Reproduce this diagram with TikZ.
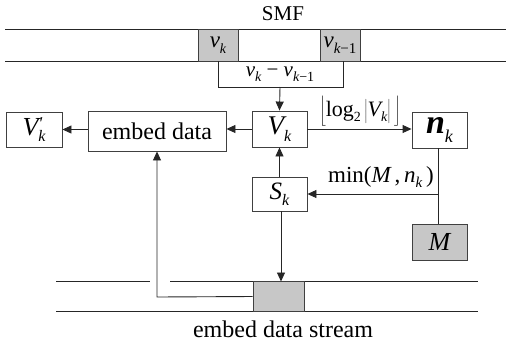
\documentclass[tikz,border=0pt]{standalone}
\usepackage{fontspec}
\setmainfont{Liberation Serif}
\usetikzlibrary{arrows.meta}
\newcommand\fsz[1]{\fontsize{#1}{#1}\selectfont}
\newcommand\lowsub[2]{\raisebox{-0.55ex}{\fsz{#1}\itshape #2}}
\begin{document}
\begin{tikzpicture}[x=1pt,y=-1pt,
  box/.style={draw=black!75,line width=0.9pt,rectangle,inner sep=0pt,fill=white},
  gbox/.style={box,fill=black!22},
  ln/.style={draw=black!85,line width=0.9pt},
  arr/.style={ln,-{Triangle[length=9pt,width=8pt]}},
  txt/.style={inner sep=0pt}
]
\useasboundingbox (0,0) rectangle (506,341);
% SMF band
\node[txt] (smf) at (283,14) {\fsz{21}SMF};
\draw[ln] (5,29) -- (506,29);
\draw[ln] (5,61) -- (506,61);
\node[gbox,minimum width=40pt,minimum height=32pt] (vk) at (218,45)
  {\fsz{23}\itshape v\lowsub{14}{k}};
\node[gbox,minimum width=40pt,minimum height=32pt] (vk1) at (340,45)
  {\fsz{23}\itshape v\raisebox{-0.55ex}{\fsz{15}\itshape k\upshape −1}};
% difference bracket
\coordinate (bl) at (218,87);
\coordinate (br) at (343,87);
\coordinate (bm) at (280,87);
\draw[ln] (vk.south) -- (bl) -- (br) -- (br |- vk1.south);
\node[txt] (diff) at (280,74)
  {\fsz{21}\itshape v\lowsub{14}{k}\upshape\ −\ \itshape v\raisebox{-0.55ex}{\fsz{14}\itshape k\upshape −1}};
% row of boxes
\node[box,minimum width=56pt,minimum height=35pt] (Vp) at (34,129.5)
  {\fsz{26}\itshape V\rlap{\raisebox{0.5ex}{\fsz{18}\textquotesingle}}\lowsub{16}{k}};
\node[box,minimum width=138pt,minimum height=40pt] (emb) at (157,131)
  {\fsz{24}embed data};
\node[box,minimum width=55pt,minimum height=36pt] (Vk) at (279.5,129)
  {\fsz{27}\itshape V\lowsub{16}{k}};
\node[box,minimum width=55pt,minimum height=36pt] (nk) at (439.5,130)
  {\fsz{34}\bfseries\itshape n\lowsub{18}{\mdseries k}};
\node[box,minimum width=55pt,minimum height=34pt] (Sk) at (279.5,194)
  {\fsz{25}\itshape S\lowsub{16}{k}};
\node[gbox,minimum width=55pt,minimum height=36pt] (M) at (439.5,242)
  {\fsz{26}\itshape M};
% connectors
\draw[arr] (bm) -- (Vk.north);
\draw[arr] (Vk.west) -- (Vk.west -| emb.east);
\draw[arr] (emb.west |- Vp.east) -- (Vp.east);
\draw[arr] (Vk.east) -- (Vk.east -| nk.west);
\node[txt] (loglbl) at (360,111)
  {\fsz{22}$\left\lfloor\mbox{log\raisebox{-0.5ex}{\fsz{14}2}}\left|\mbox{\itshape V\lowsub{14}{k}}\vphantom{\rule[-3pt]{0pt}{20pt}}\right|\vphantom{\rule[-7pt]{0pt}{27pt}}\right\rfloor$};
\draw[arr] (Sk.north) -- (Vk.south);
\coordinate (nkM) at (438,194);
\draw[ln] (438,148) -- (438,224);
\draw[arr] (nkM) -- (Sk.east);
\node[txt] (minlbl) at (381,177)
  {\fsz{23}min(\itshape M\upshape\,,\,\itshape n\lowsub{15}{k}\upshape\,)};
% embed data stream
\draw[ln] (56,281) -- (150,281);
\draw[ln] (170,281) -- (478,281);
\draw[ln] (56,311) -- (478,311);
\node[gbox,minimum width=51pt,minimum height=30pt] (slot) at (278.5,296.5) {};
\draw[arr] (281,211) -- (281,281.5);
\coordinate (corner) at (157,297);
\draw[arr] (slot.west) -- (corner) -- (emb.south);
\node[txt] (cap) at (283,329) {\fsz{24}embed data stream};
\end{tikzpicture}
\end{document}
